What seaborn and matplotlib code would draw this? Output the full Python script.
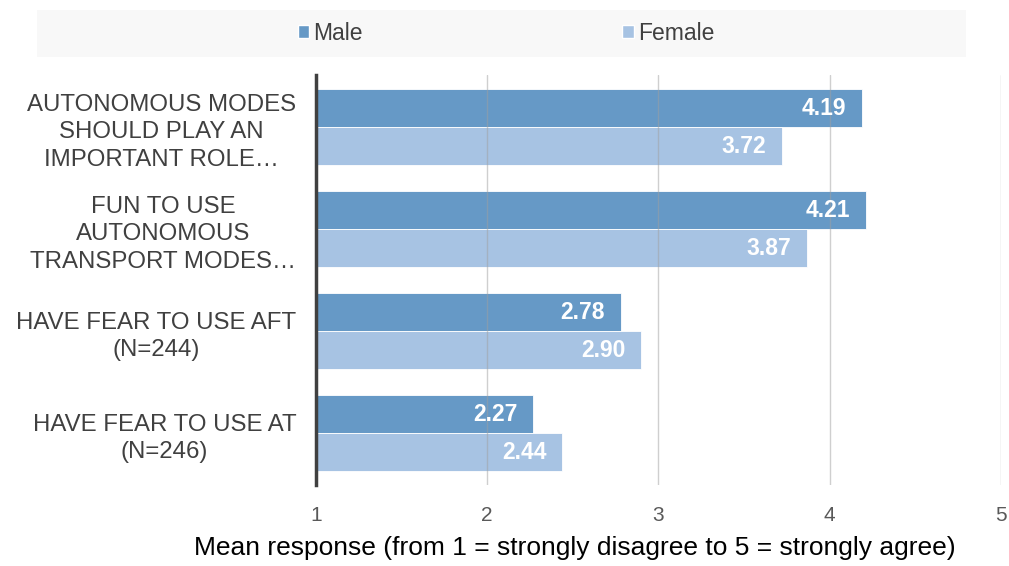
import matplotlib
matplotlib.use("Agg")
import matplotlib.pyplot as plt
from matplotlib.patches import Rectangle
import seaborn as sns
import pandas as pd

categories = [
    "AUTONOMOUS MODES\nSHOULD PLAY AN\nIMPORTANT ROLE…",
    "FUN TO USE\nAUTONOMOUS\nTRANSPORT MODES…",
    "HAVE FEAR TO USE AFT\n(N=244)",
    "HAVE FEAR TO USE AT\n(N=246)",
]
male = [4.19, 4.21, 2.78, 2.27]
female = [3.72, 3.87, 2.90, 2.44]
groups = ["Male", "Female"]
colors = ["#6699c6", "#a7c3e3"]
xticks = [1, 2, 3, 4, 5]

df = pd.DataFrame({
    "category": categories * 2,
    "value": male + female,
    "group": [groups[0]] * len(categories) + [groups[1]] * len(categories),
})

sns.set_theme(style="white")
plt.rcParams["font.family"] = ["Liberation Sans", "DejaVu Sans"]

fig = plt.figure(figsize=(10.09, 5.66), dpi=100)
ax = fig.add_axes([0.313, 0.143, 0.679, 0.7245])

sns.barplot(data=df, y="category", x="value", hue="group", order=categories,
            hue_order=groups, palette=colors, saturation=1, width=0.745,
            orient="h", edgecolor="white", linewidth=0.6, ax=ax, legend=False,
            zorder=2)

ax.set_xlim(1, 5)
ax.set_ylim(3.51, -0.51)
ax.set_xticks(xticks)
ax.set_xticklabels([str(t) for t in xticks], fontsize=15, color="#595959")
ax.tick_params(axis="x", length=0, pad=15)
ax.tick_params(axis="y", length=0, pad=14)
ax.set_yticks(range(len(categories)))
ax.set_yticklabels(categories, fontsize=17.3, color="#404040",
                   multialignment="center", linespacing=1.32)
ax.set_ylabel("")
ax.set_xlabel("")
fig.text(575 / 1009, 1 - 548 / 566,
         "Mean response (from 1 = strongly disagree to 5 = strongly agree)",
         fontsize=19, color="black", ha="center", va="center")

for x in xticks[1:]:
    ax.axvline(x, color="#a0a0a0", alpha=0.5, linewidth=1, zorder=3)

for s in ["top", "right", "bottom"]:
    ax.spines[s].set_visible(False)
ax.spines["left"].set_color("#404040")
ax.spines["left"].set_linewidth(2.5)
ax.spines["left"].set_zorder(4)

for container in ax.containers:
    for bar in container:
        w = bar.get_width()
        y = bar.get_y() + bar.get_height() / 2
        ax.annotate(f"{w:.2f}", xy=(w, y), xytext=(-11.5, 0),
                    textcoords="offset points", ha="right", va="center",
                    color="white", fontsize=16.5, fontweight="bold", zorder=5)

# legend band
fig.patches.append(Rectangle((37 / 1009, 1 - 57 / 566), (966 - 37) / 1009, 47 / 566,
                             transform=fig.transFigure, facecolor="#f8f8f8",
                             edgecolor="none", zorder=0))
handles = [Rectangle((0, 0), 1, 1, facecolor=c) for c in colors]
fig.legend(handles, groups, loc="center", bbox_to_anchor=(506 / 1009, 1 - 33 / 566),
           ncol=2, frameon=False, fontsize=16.5, handlelength=0.5,
           handleheight=0.5, handletextpad=0.2, columnspacing=11.3,
           labelcolor="#404040")

fig.savefig("out.png", dpi=100)
